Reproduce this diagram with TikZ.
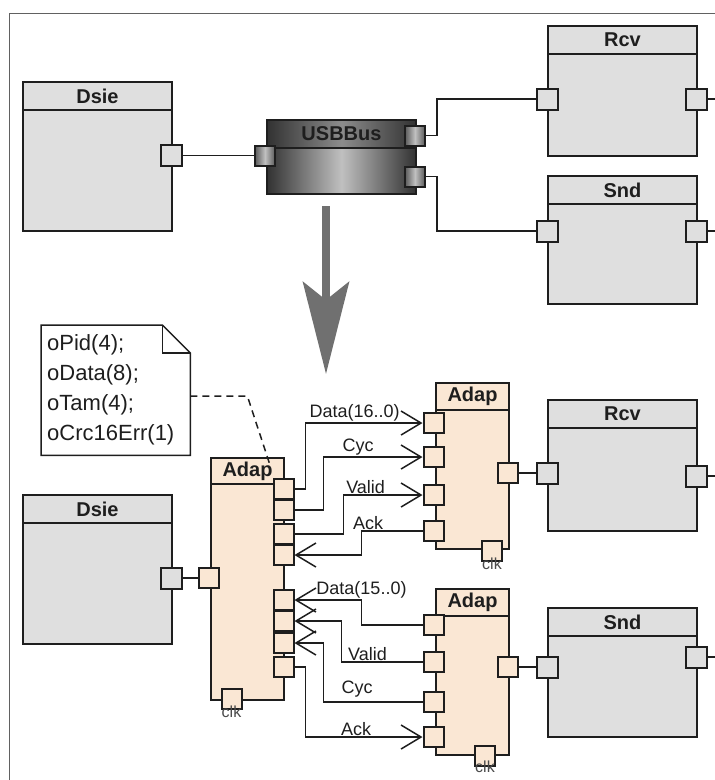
\documentclass[tikz,border=0pt]{standalone}
\usepackage{fontspec}
\setmainfont{Liberation Sans}
\usetikzlibrary{arrows.meta,positioning}
\definecolor{boxgray}{RGB}{223,223,223}
\definecolor{adapfill}{RGB}{250,231,212}
\definecolor{edgec}{RGB}{30,30,30}
\definecolor{busdark}{RGB}{50,50,50}
\definecolor{buslight}{RGB}{192,192,192}
\definecolor{bushead}{RGB}{140,140,140}
\definecolor{arrowgray}{RGB}{112,112,112}
\tikzset{
  compbox/.style={draw=edgec, line width=2pt, fill=boxgray, anchor=north west, inner sep=0pt},
  adapbox/.style={compbox, fill=adapfill},
  hdrtext/.style={font=\fontsize{20}{22}\selectfont\bfseries, text=edgec},
  gport/.style={draw=edgec, line width=2pt, fill=boxgray, minimum width=21pt, minimum height=21pt, inner sep=0pt},
  aport/.style={gport, fill=adapfill, minimum width=20pt, minimum height=20pt},
  bport/.style={gport, minimum width=20pt, minimum height=20pt, left color=busdark!80, right color=busdark!80, middle color=buslight},
  busbody/.style={draw=edgec, line width=2pt, anchor=north west, inner sep=0pt, left color=busdark, right color=busdark, middle color=buslight},
  bushdr/.style={busbody, middle color=bushead},
  conn/.style={draw=edgec, line width=1.5pt},
  sig/.style={conn, -{Straight Barb[length=20pt,width=24pt]}},
  lbl/.style={font=\fontsize{18}{20}\selectfont, text=edgec, inner sep=1pt},
  clklbl/.style={font=\fontsize{16}{17}\selectfont, text=edgec!80, inner sep=0pt},
  notetext/.style={anchor=north west, text width=137pt, inner xsep=6pt, inner ysep=0pt, minimum height=130pt, align=left, font=\fontsize{22}{30}\selectfont, text=edgec},
  link/.style={draw=edgec, line width=1.5pt, dash pattern=on 7pt off 5pt},
  bigarrow/.style={draw=arrowgray, line width=8pt, -{Stealth[length=92pt,width=46pt,inset=18pt]}}
}
\begin{document}
\begin{tikzpicture}[x=1pt,y=-1pt]
\useasboundingbox (0,0) rectangle (715,780);
\draw[draw=edgec!70, line width=1pt] (9,780) -- (9,13) -- (715,13);

\node[compbox, minimum width=149pt, minimum height=149pt] (dsieA) at (22,81) {};
\node[compbox, hdrtext, minimum width=149pt, minimum height=28pt] (dsieAh) at (22,81) {Dsie};
\node[gport] (dsieAp) at (171.5,155.5) {};

\node[busbody, minimum width=149pt, minimum height=74pt] (busA) at (266,119) {};
\node[bushdr, hdrtext, minimum width=149pt, minimum height=28pt] (busAh) at (266,119) {USBBus};
\node[bport] (busAl) at (265,155.5) {};
\node[bport] (busAr1) at (415,135.5) {};
\node[bport] (busAr2) at (415,176.5) {};

\node[compbox, minimum width=149pt, minimum height=130pt] (rcvA) at (547,25) {};
\node[compbox, hdrtext, minimum width=149pt, minimum height=28pt] (rcvAh) at (547,25) {Rcv};
\node[gport] (rcvAl) at (547,99) {};
\node[gport] (rcvAr) at (696.5,99) {};
\coordinate (rcvAend) at (715,99);

\node[compbox, minimum width=149pt, minimum height=128pt] (sndA) at (547,175) {};
\node[compbox, hdrtext, minimum width=149pt, minimum height=28pt] (sndAh) at (547,175) {Snd};
\node[gport] (sndAl) at (547,231) {};
\node[gport] (sndAr) at (696.5,231) {};
\coordinate (sndAend) at (715,231);

\draw[conn] (dsieAp) -- (busAl);
\draw[conn] (busAr1.east) -- ++(11,0) |- (rcvAl.west);
\draw[conn] (busAr2.east) -- ++(11,0) |- (sndAl.west);
\draw[conn] (rcvAr) -- (rcvAend);
\draw[conn] (sndAr) -- (sndAend);

\coordinate (arrA) at (326,206);
\coordinate (arrB) at (326,374);
\draw[bigarrow] (arrA) -- (arrB);

\node[notetext] (note) at (41,325) {oPid(4);\\oData(8);\\oTam(4);\\oCrc16Err(1)};
\draw[conn] (note.north west) -- ([xshift=-28pt]note.north east) -- ([yshift=-28pt]note.north east) -- (note.south east) -- (note.south west) -- cycle;
\draw[conn] ([xshift=-28pt]note.north east) |- ([yshift=-28pt]note.north east);

\node[compbox, minimum width=149pt, minimum height=149pt] (dsieB) at (22,494) {};
\node[compbox, hdrtext, minimum width=149pt, minimum height=28pt] (dsieBh) at (22,494) {Dsie};
\node[gport] (dsieBp) at (171.5,578) {};

\node[adapbox, minimum width=73pt, minimum height=242pt] (adapL) at (210,457) {};
\node[adapbox, hdrtext, minimum width=73pt, minimum height=26pt] (adapLh) at (210,457) {Adap};
\node[aport] (adapLin) at (208.5,578) {};
\foreach \i/\y in {1/489,2/510,3/534,4/555,5/600,6/621,7/643,8/667}
  \node[aport] (adapLp\i) at (283.5,\y) {};
\node[aport] (adapLclk) at (231.5,699) {};
\node[clklbl, below=-4pt of adapLclk] (adapLck) {clk};

\node[adapbox, minimum width=73pt, minimum height=166pt] (adapR1) at (435,382) {};
\node[adapbox, hdrtext, minimum width=73pt, minimum height=27pt] (adapR1h) at (435,382) {Adap};
\foreach \i/\y in {1/423,2/457,3/495,4/531}
  \node[aport] (adapR1p\i) at (433.5,\y) {};
\node[aport] (adapR1o) at (508,473) {};
\node[aport] (adapR1clk) at (492,551) {};
\node[clklbl, below=-4pt of adapR1clk] (adapR1ck) {clk};

\node[adapbox, minimum width=73pt, minimum height=166pt] (adapR2) at (435,588) {};
\node[adapbox, hdrtext, minimum width=73pt, minimum height=27pt] (adapR2h) at (435,588) {Adap};
\foreach \i/\y in {1/625,2/662,3/702,4/737}
  \node[aport] (adapR2p\i) at (433.5,\y) {};
\node[aport] (adapR2o) at (508,667) {};
\node[aport] (adapR2clk) at (485,756) {};
\node[clklbl, below=-6pt of adapR2clk] (adapR2ck) {clk};

\node[compbox, minimum width=149pt, minimum height=131pt] (rcvB) at (547,399) {};
\node[compbox, hdrtext, minimum width=149pt, minimum height=28pt] (rcvBh) at (547,399) {Rcv};
\node[gport] (rcvBl) at (547,473) {};
\node[gport] (rcvBr) at (696.5,476) {};
\coordinate (rcvBend) at (715,476);

\node[compbox, minimum width=149pt, minimum height=129pt] (sndB) at (547,607) {};
\node[compbox, hdrtext, minimum width=149pt, minimum height=28pt] (sndBh) at (547,607) {Snd};
\node[gport] (sndBl) at (547,667) {};
\node[gport] (sndBr) at (696.5,657) {};
\coordinate (sndBend) at (715,657);

\coordinate (noteend) at ([xshift=-15pt,yshift=-8pt]adapL.north east);
\draw[link] ([yshift=-6pt]note.east) -- ++(57,0) -- (noteend);

\draw[conn] (dsieBp) -- (adapLin);
\draw[conn] (adapR1o) -- (rcvBl);
\draw[conn] (adapR2o) -- (sndBl);
\draw[conn] (rcvBr) -- (rcvBend);
\draw[conn] (sndBr) -- (sndBend);

\draw[sig] (adapLp1.east) -- ++(11,0) |- node[lbl, pos=0.71, above] {Data(16..0)} (adapR1p1.west);
\draw[sig] (adapLp2.east) -- ++(29,0) |- node[lbl, pos=0.675, above] {Cyc} (adapR1p2.west);
\draw[sig] (adapLp3.east) -- ++(49,0) |- node[lbl, pos=0.64, above] {Valid} (adapR1p3.west);
\draw[sig] (adapR1p4.west) -- node[lbl, pos=0.89, above] {Ack} ++(-61,0) |- (adapLp4.east);

\draw[sig] (adapR2p1.west) -- ++(-61,0) |- node[lbl, pos=0.5, above] {Data(15..0)} (adapLp5.east);
\draw[sig] (adapR2p2.west) -- node[lbl, pos=0.68, above] {Valid} ++(-81,0) |- (adapLp6.east);
\draw[sig] (adapR2p3.west) -- node[lbl, pos=0.66, above=3pt] {Cyc} ++(-99,0) |- (adapLp7.east);
\draw[sig] (adapLp8.east) -- ++(11,0) |- node[lbl, pos=0.716, above] {Ack} (adapR2p4.west);
\end{tikzpicture}
\end{document}
